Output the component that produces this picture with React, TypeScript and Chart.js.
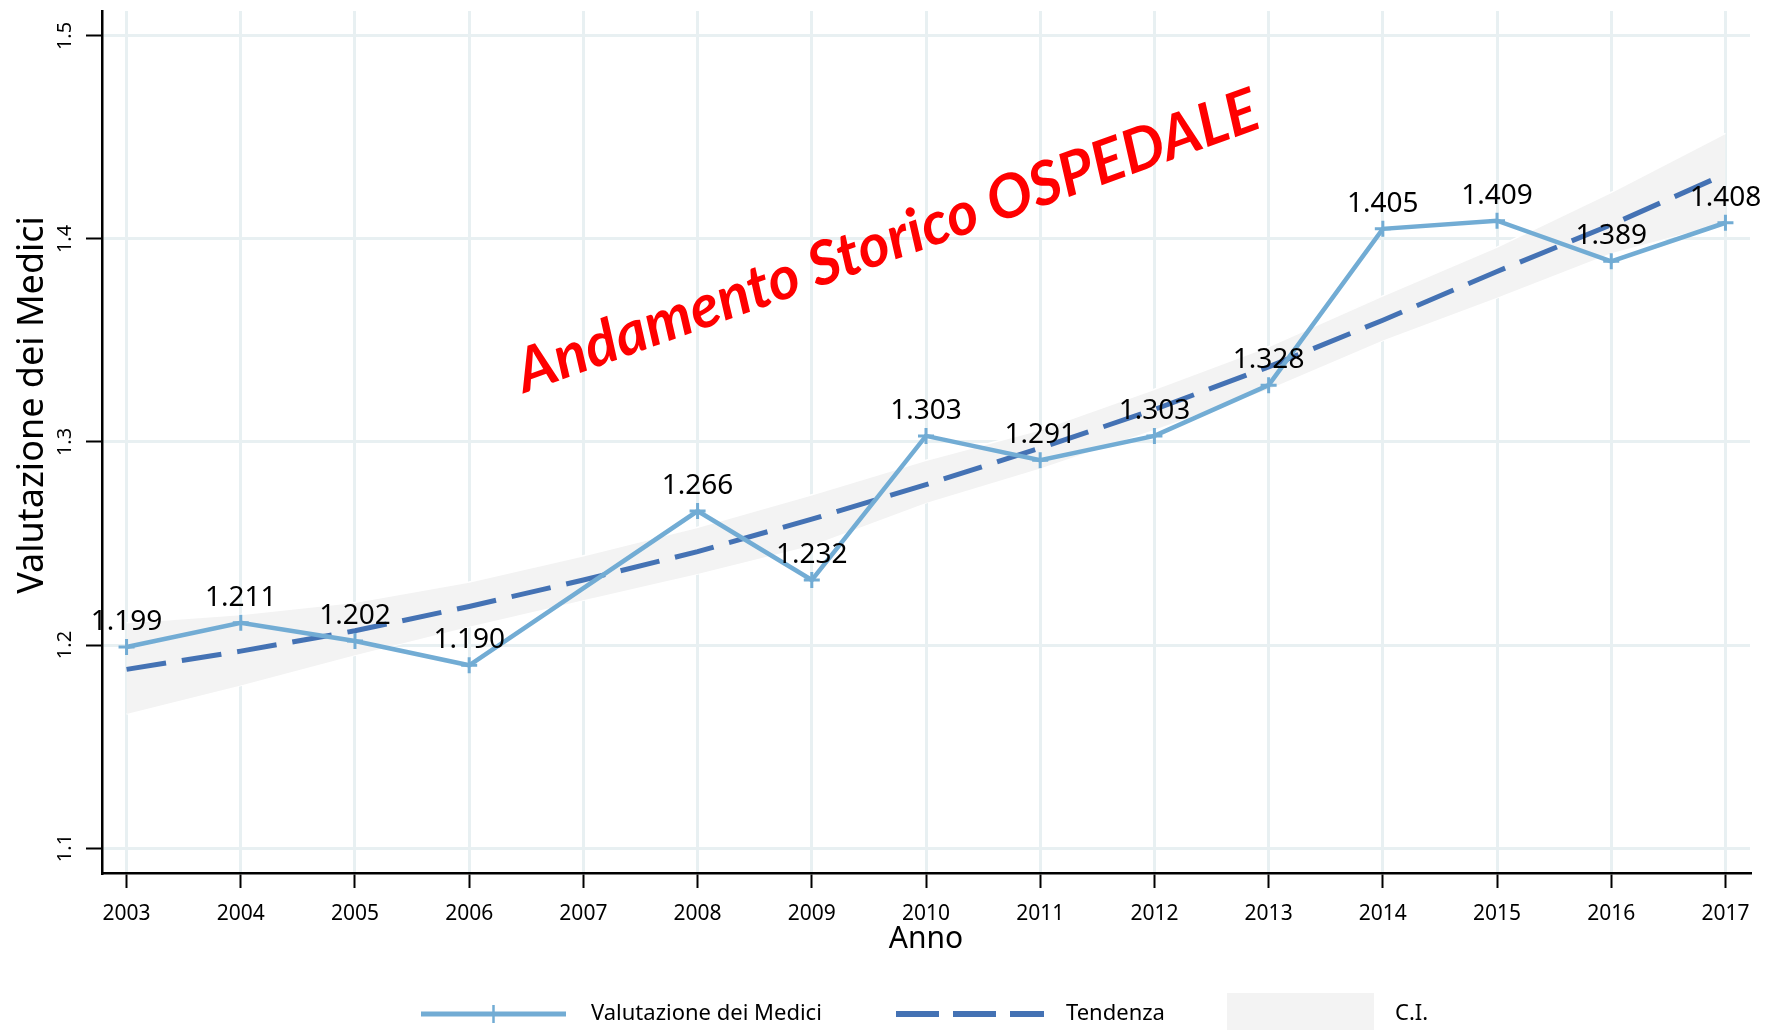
import React, { useEffect, useRef } from "react";
import { Chart, registerables } from "chart.js";

Chart.register(...registerables);

// ---- data ----
const years = [2003, 2004, 2005, 2006, 2007, 2008, 2009, 2010, 2011, 2012, 2013, 2014, 2015, 2016, 2017];
const valutazione = [1.199, 1.211, 1.202, 1.19, null, 1.266, 1.232, 1.303, 1.291, 1.303, 1.328, 1.405, 1.409, 1.389, 1.408];
const tendenza = [1.188, 1.197, 1.207, 1.219, 1.232, 1.246, 1.262, 1.279, 1.297, 1.316, 1.337, 1.36, 1.384, 1.407, 1.432];
const ciUpper = [1.211, 1.215, 1.221, 1.231, 1.244, 1.258, 1.274, 1.291, 1.306, 1.326, 1.347, 1.372, 1.396, 1.423, 1.452];
const ciLower = [1.166, 1.18, 1.195, 1.209, 1.222, 1.235, 1.249, 1.27, 1.287, 1.306, 1.326, 1.35, 1.371, 1.393, 1.408];
const yTicks = [1.1, 1.2, 1.3, 1.4, 1.5];
const seriesLabels = ["Valutazione dei Medici", "Tendenza", "C.I."];
const chartTitle = "Andamento Storico OSPEDALE";
const xTitle = "Anno";
const yTitle = "Valutazione dei Medici";

// ---- styles ----
const FONT = "'Noto Sans', sans-serif";
const COL_DATA = "#72acd4";
const COL_TREND = "#4472b4";
const COL_BAND = "#f3f3f3";
const COL_GRID = "#e8f0f2";

const overlayPlugin = {
  id: "overlay",
  afterDatasetsDraw(chart: any) {
    const ctx = chart.ctx;
    // value labels
    const meta = chart.getDatasetMeta(0);
    ctx.save();
    ctx.font = `28px ${FONT}`;
    ctx.fillStyle = "#000";
    ctx.textAlign = "center";
    ctx.textBaseline = "alphabetic";
    meta.data.forEach((pt: any, i: number) => {
      const v = valutazione[i];
      if (v == null) return;
      ctx.fillText(v.toFixed(3), pt.x, pt.y - 17);
    });
    ctx.restore();
  },
  afterDraw(chart: any) {
    const ctx = chart.ctx;
    // slanted red title
    ctx.save();
    ctx.translate(894, 260);
    ctx.rotate((-19.8 * Math.PI) / 180);
    let size = 50;
    ctx.font = `italic bold ${size}px 'Comic Sans MS', Lato, sans-serif`;
    const w = ctx.measureText(chartTitle).width;
    size = size * (785 / w);
    ctx.font = `italic bold ${size}px 'Comic Sans MS', Lato, sans-serif`;
    ctx.fillStyle = "#ff0000";
    ctx.textAlign = "center";
    ctx.textBaseline = "alphabetic";
    ctx.fillText(chartTitle, 0, 0);
    ctx.restore();

    // y axis title
    ctx.save();
    ctx.translate(33, 405);
    ctx.rotate(-Math.PI / 2);
    ctx.font = `36px ${FONT}`;
    ctx.fillStyle = "#000";
    ctx.textAlign = "center";
    ctx.textBaseline = "middle";
    ctx.fillText(yTitle, 0, 0);
    ctx.restore();

    // legend
    const ly = 1014;
    ctx.save();
    ctx.lineCap = "butt";
    ctx.strokeStyle = COL_DATA;
    ctx.lineWidth = 5;
    ctx.beginPath();
    ctx.moveTo(421, ly);
    ctx.lineTo(566, ly);
    ctx.stroke();
    ctx.lineWidth = 2.5;
    ctx.beginPath();
    ctx.moveTo(493.5, ly - 9);
    ctx.lineTo(493.5, ly + 9);
    ctx.stroke();

    ctx.strokeStyle = COL_TREND;
    ctx.lineWidth = 6;
    ctx.setLineDash([43, 14]);
    ctx.beginPath();
    ctx.moveTo(896, ly);
    ctx.lineTo(1044, ly);
    ctx.stroke();
    ctx.setLineDash([]);

    ctx.fillStyle = COL_BAND;
    ctx.fillRect(1227, 993, 147, 40);

    ctx.fillStyle = "#000";
    ctx.font = `22px ${FONT}`;
    ctx.textAlign = "left";
    ctx.textBaseline = "middle";
    ctx.fillText(seriesLabels[0], 591, ly);
    ctx.fillText(seriesLabels[1], 1066, ly);
    ctx.fillText(seriesLabels[2], 1395, ly);
    ctx.restore();
  },
};

export default function App() {
  const ref = useRef<HTMLCanvasElement | null>(null);

  useEffect(() => {
    if (!ref.current) return;
    const pts = (arr: (number | null)[]) => years.map((x, i) => ({ x, y: arr[i] }));
    const chart = new Chart(ref.current, {
      type: "line",
      data: {
        datasets: [
          {
            label: seriesLabels[0],
            data: pts(valutazione),
            borderColor: COL_DATA,
            backgroundColor: COL_DATA,
            borderWidth: 4.5,
            pointStyle: "cross",
            pointRadius: 8,
            pointBorderWidth: 3,
            pointBorderColor: COL_DATA,
            spanGaps: true,
            tension: 0,
            fill: false,
          },
          {
            label: seriesLabels[1],
            data: pts(tendenza),
            borderColor: COL_TREND,
            borderWidth: 5,
            borderDash: [40, 16],
            pointRadius: 0,
            tension: 0,
            fill: false,
          },
          {
            label: seriesLabels[2],
            data: pts(ciUpper),
            borderColor: "#ffffff",
            borderWidth: 1.5,
            backgroundColor: COL_BAND,
            pointRadius: 0,
            tension: 0,
            fill: "+1",
          },
          {
            label: seriesLabels[2] + " low",
            data: pts(ciLower),
            borderColor: "#ffffff",
            borderWidth: 1.5,
            pointRadius: 0,
            tension: 0,
            fill: false,
          },
        ],
      },
      options: {
        animation: false,
        responsive: true,
        maintainAspectRatio: false,
        layout: { padding: { top: 8, right: 24, left: 0, bottom: 0 } },
        plugins: {
          legend: { display: false },
          tooltip: { enabled: false },
        },
        scales: {
          x: {
            type: "linear",
            min: 2002.785,
            max: 2017.215,
            afterBuildTicks: (s: any) => {
              s.ticks = years.map((v) => ({ value: v }));
            },
            afterFit: (s: any) => {
              s.height = 157;
              s.paddingLeft = 0;
              s.paddingRight = 0;
            },
            ticks: {
              autoSkip: false,
              maxRotation: 0,
              padding: 13,
              color: "#000",
              font: { family: FONT, size: 21 },
              callback: (v: any) => String(v),
            },
            grid: {
              color: COL_GRID,
              lineWidth: 3,
              drawTicks: true,
              tickLength: 15,
              tickColor: "#000",
              tickWidth: 2,
            },
            border: { display: true, color: "#000", width: 2.5 },
            title: {
              display: true,
              text: xTitle,
              color: "#000",
              font: { family: FONT, size: 30 },
              padding: { top: 0, bottom: 73 },
            },
          },
          y: {
            type: "linear",
            min: 1.0877,
            max: 1.5123,
            afterBuildTicks: (s: any) => {
              s.ticks = yTicks.map((v) => ({ value: v }));
            },
            afterFit: (s: any) => {
              s.width = 102;
              s.paddingTop = 0;
              s.paddingBottom = 0;
            },
            ticks: {
              minRotation: 90,
              maxRotation: 90,
              crossAlign: "center",
              padding: 7,
              color: "#000",
              font: { family: FONT, size: 20 },
              callback: (v: any) => Number(v).toFixed(1),
            },
            grid: {
              color: COL_GRID,
              lineWidth: 3,
              drawTicks: true,
              tickLength: 16,
              tickColor: "#000",
              tickWidth: 2,
            },
            border: { display: true, color: "#000", width: 2.5 },
          },
        },
      },
      plugins: [overlayPlugin],
    });
    return () => chart.destroy();
  }, []);

  return (
    <div style={{ position: "fixed", left: 0, top: 0, width: 1774, height: 1030, background: "#fff" }}>
      <canvas ref={ref} />
    </div>
  );
}
